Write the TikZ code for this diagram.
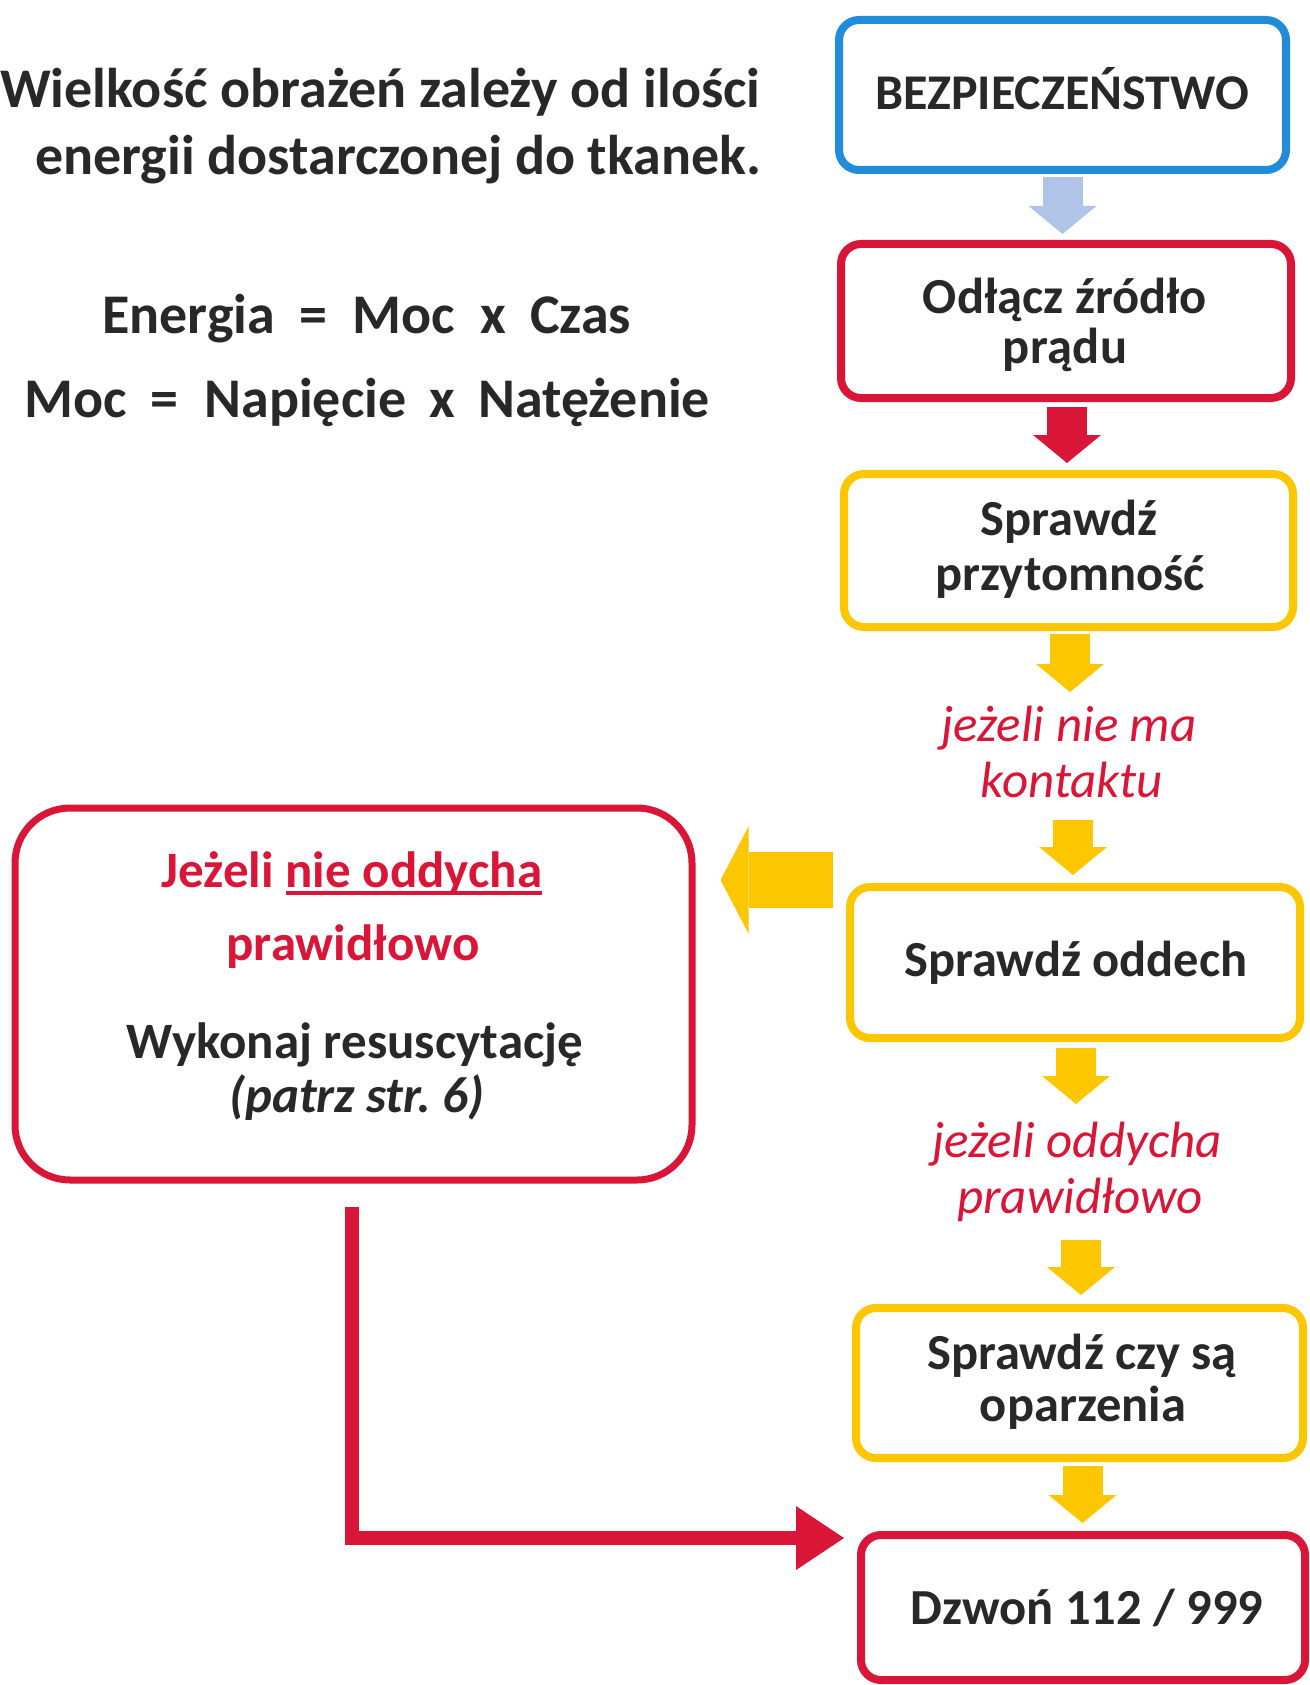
\documentclass[tikz,border=0pt]{standalone}
\usepackage{fontspec}
\setmainfont{Carlito}
\usetikzlibrary{arrows.meta,calc}
\definecolor{inkc}{RGB}{40,40,40}
\definecolor{redc}{RGB}{218,22,56}
\definecolor{yelc}{RGB}{252,198,0}
\definecolor{bluec}{RGB}{32,140,218}
\definecolor{lblue}{RGB}{176,196,232}
\newcommand\myul[1]{\setbox0\hbox{#1}\rlap{\rule[-8pt]{\wd0}{3.8pt}}\box0}
\begin{document}
\begin{tikzpicture}[x=1pt,y=1pt,
  box/.style={draw, line width=8pt, rounded corners=20pt, fill=white, inner sep=0pt},
  txt/.style={inner sep=0pt, anchor=base, text=inkc, font=\fontsize{50.5}{60}\selectfont\bfseries},
  lbtxt/.style={inner sep=0pt, anchor=base, text=inkc, font=\fontsize{51}{61}\selectfont\bfseries},
  itred/.style={inner sep=0pt, anchor=base, text=redc, font=\fontsize{51}{61}\selectfont\itshape},
  eqtxt/.style={inner sep=0pt, anchor=base west, text=inkc, font=\fontsize{56}{67}\selectfont\bfseries},
  varr/.style={line width=40pt, -{Triangle[width=68pt,length=28pt,line width=0pt]}},
  harr/.style={line width=56pt, -{Triangle[width=107pt,length=28pt,line width=0pt]}},
  larr/.style={draw=redc, line width=14pt, -{Triangle[width=64pt,length=48pt,line width=0pt]}}
]
\fill[white] (0,0) rectangle (1309,-1685);
\useasboundingbox (0,0) rectangle (1309,-1685);

% header texts
\node[eqtxt] (title1) at (0,-108) {Wielkość obrażeń zależy od ilości};
\node[eqtxt] (title2) at (35,-175) {energii dostarczonej do tkanek.};
\node[eqtxt] (eq1) at (102,-333) {Energia\hspace{25pt}=\hspace{25pt}Moc\hspace{25pt}x\hspace{24pt}Czas};
\node[eqtxt] (eq2) at (24,-417) {Moc\hspace{24pt}=\hspace{26pt}Napięcie\hspace{23pt}x\hspace{23pt}Natężenie};

% right column boxes
\node[box, draw=bluec, minimum width=447pt, minimum height=150pt] (b1) at (1062.5,-95) {};
\node[box, draw=redc, minimum width=450pt, minimum height=154pt] (b2) at (1066,-321) {};
\node[box, draw=yelc, minimum width=449pt, minimum height=153pt] (b3) at (1068.5,-550.5) {};
\node[box, draw=yelc, minimum width=450pt, minimum height=151pt] (b4) at (1075,-962.5) {};
\node[box, draw=yelc, minimum width=447pt, minimum height=150pt] (b5) at (1079.5,-1383) {};
\node[box, draw=redc, minimum width=444pt, minimum height=145pt] (b6) at (1083,-1607.5) {};

% left box
\node[box, draw=redc, line width=7pt, rounded corners=55pt, minimum width=677pt, minimum height=372pt] (lb) at (353.5,-994) {};

% box texts
\node[txt, font=\fontsize{50}{60}\selectfont\bfseries] (b1t) at (1062,-110) {BEZPIECZEŃSTWO};
\node[txt] (b2ta) at (1065,-313) {Odłącz źródło};
\node[txt] (b2tb) at (1065,-363) {prądu};
\node[txt] (b3ta) at (1069,-535) {Sprawdź};
\node[txt] (b3tb) at (1070,-590) {przytomność};
\node[itred] (t1a) at (1069,-741) {jeżeli nie ma};
\node[itred] (t1b) at (1072,-797) {kontaktu};
\node[txt] (b4t) at (1076,-976) {Sprawdź oddech};
\node[itred] (t2a) at (1077,-1157) {jeżeli oddycha};
\node[itred] (t2b) at (1080,-1213) {prawidłowo};
\node[txt] (b5ta) at (1082,-1369) {Sprawdź czy są};
\node[txt] (b5tb) at (1083,-1421) {oparzenia};
\node[txt] (b6t) at (1087,-1624) {Dzwoń 112 / 999};

\node[lbtxt, text=redc] (lbta) at (352,-887) {Jeżeli \myul{nie oddycha}};
\node[lbtxt, text=redc] (lbtb) at (353,-960) {prawidłowo};
\node[lbtxt] (lbtc) at (355,-1058) {Wykonaj resuscytację};
\node[lbtxt, font=\fontsize{51}{61}\selectfont\bfseries\itshape] (lbtd) at (357,-1112) {(patrz str.\ 6)};

% vertical block arrows
\draw[varr, draw=lblue] ($(b1.south)+(0,-3)$) -- ($(b1.south |- b2.north)+(0,6)$);
\draw[varr, draw=redc] ($(b2.south)+(1,-5)$) -- ($(b2.south |- b3.north)+(1,7)$);
\draw[varr, draw=yelc] ($(b3.south)+(1.5,-3)$) -- ($(b3.south |- t1a.base)+(1.5,49)$);
\draw[varr, draw=yelc] ($(t1b.base)+(1,-23)$) -- ($(t1b.base |- b4.north)+(1,8)$);
\draw[varr, draw=yelc] ($(b4.south)+(1,-6)$) -- ($(b4.south |- t2a.base)+(1,53)$);
\draw[varr, draw=yelc] ($(t2b.base)+(1,-27)$) -- ($(t2b.base |- b5.north)+(1,9)$);
\draw[varr, draw=yelc] ($(b5.south)+(3,-4)$) -- ($(b5.south |- b6.north)+(3,8)$);

% left yellow arrow
\draw[harr, draw=yelc] ($(b4.north west)+(-13,3)$) coordinate (ha) -- ($(lb.east |- ha)+(25,0)$);

% red L connector
\draw[larr] ($(lb.south)+(-1.5,-23.5)$) |- ($(b6.north west)+(-13,-7)$);
\end{tikzpicture}
\end{document}
